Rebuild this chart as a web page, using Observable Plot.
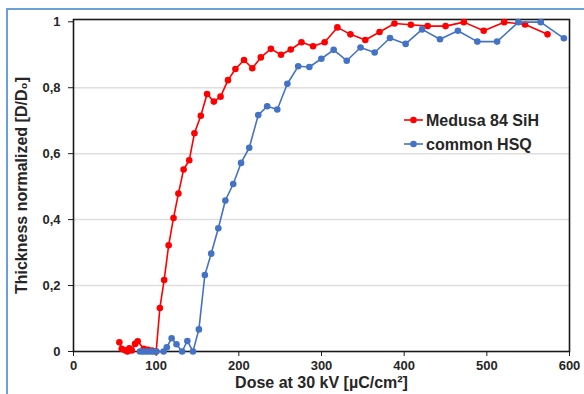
<!DOCTYPE html>
<html>
<head>
<meta charset="utf-8">
<script src="https://cdn.jsdelivr.net/npm/d3@7"></script>
<script src="https://cdn.jsdelivr.net/npm/@observablehq/plot@0.6"></script>
<style>
  html, body { margin: 0; padding: 0; background: #fff; overflow: hidden; }
  #wrap { position: relative; width: 584px; height: 394px; font-family: "Liberation Sans", Arial, sans-serif; }
  #border { position: absolute; left: 6px; top: 8px; width: 640px; height: 440px; border: 2px solid #6a9fd8; box-sizing: border-box; }
  #chart { position: absolute; left: 0; top: 0; }
  #legend { position: absolute; left: 0; top: 0; }
</style>
</head>
<body>
<div id="wrap">
  <div id="border"></div>
  <div id="chart"></div>
  <div id="legend"></div>
</div>
<script>
// ---- data ----
const seriesNames = ["Medusa 84 SiH", "common HSQ"];
const seriesColors = ["#ff0000", "#4472c4"];

const medusaDose = [55.5, 58.3, 62.4, 65.2, 67.6, 70.5, 74.5, 77.7, 85, 90, 95, 100, 104.5, 109.7, 115.1, 121, 126.9, 133.2, 140, 146.3, 154, 161.6, 169.8, 177.9, 186.9, 195.9, 206.3, 216.3, 226.6, 238.8, 251, 262.8, 275.8, 289.8, 303.8, 319.2, 335, 353, 370.2, 388.3, 408.1, 428.4, 450.1, 472.2, 496.2, 521, 546.3, 573.4];
const medusaThick = [0.028, 0.008, 0.004, 0, 0.01, 0.003, 0.023, 0.031, 0.008, 0.005, 0.003, 0, 0.132, 0.217, 0.322, 0.405, 0.479, 0.552, 0.58, 0.662, 0.715, 0.781, 0.758, 0.773, 0.823, 0.857, 0.884, 0.859, 0.892, 0.918, 0.9, 0.916, 0.938, 0.926, 0.938, 0.983, 0.962, 0.945, 0.969, 0.995, 0.991, 0.987, 0.987, 0.999, 0.973, 0.999, 0.992, 0.962];

const hsqDose = [80.4, 83.5, 86.7, 89.8, 93.5, 96.6, 100.2, 109, 112.9, 118.7, 124.6, 131.4, 137.7, 144.5, 151.7, 158.9, 166.6, 175.2, 183.7, 193.2, 202.7, 212.6, 223.5, 234.3, 246.5, 258.7, 271.8, 285.3, 299.8, 314.7, 330.5, 347.2, 364.3, 382.8, 401.8, 421.7, 443.3, 465, 488.5, 512.4, 538.1, 565.2, 593.2];
const hsqThick = [0, 0, 0, 0, 0, 0, 0, 0, 0.013, 0.04, 0.022, 0, 0.032, 0, 0.067, 0.232, 0.297, 0.374, 0.458, 0.508, 0.572, 0.618, 0.717, 0.744, 0.734, 0.812, 0.865, 0.863, 0.888, 0.915, 0.882, 0.922, 0.907, 0.951, 0.933, 0.977, 0.947, 0.973, 0.94, 0.94, 0.999, 0.999, 0.95];

const xTicks = [0, 100, 200, 300, 400, 500, 600];
const yTicks = [0, 0.2, 0.4, 0.6, 0.8, 1];
const gridTicks = [0.2, 0.4, 0.6, 0.8];
const xLabel = "Dose at 30 kV [µC/cm²]";
const yLabel = "Thickness normalized [D/D₀]";

// ---- build ----
const medusa = medusaDose.map((d, i) => ({dose: d, t: medusaThick[i]}));
const hsq = hsqDose.map((d, i) => ({dose: d, t: hsqThick[i]}));
const fmt = d => d === 0 ? "0" : d === 1 ? "1" : d.toFixed(1).replace(".", ",");

const chart = Plot.plot({
  width: 584,
  height: 394,
  marginLeft: 73,
  marginRight: 15,
  marginTop: 19,
  marginBottom: 43,
  style: {fontFamily: "'Liberation Sans', Arial, sans-serif", background: "transparent", color: "#262626"},
  x: {domain: [0, 600], ticks: xTicks, label: null},
  y: {domain: [0, 1.007], ticks: yTicks, label: null},
  marks: [
    Plot.ruleY(gridTicks, {stroke: "#dedede", strokeWidth: 1.5}),
    Plot.frame({stroke: "#1a1a1a", strokeWidth: 1.6}),
    Plot.axisX({ticks: xTicks, tickSize: 5, tickPadding: 4, fontSize: 13, fontWeight: "bold", stroke: "#1a1a1a", fill: "#262626", label: null}),
    Plot.axisY({ticks: yTicks, tickSize: 5, tickPadding: 8, tickFormat: fmt, fontSize: 13, fontWeight: "bold", stroke: "#1a1a1a", fill: "#262626", label: null}),
    Plot.line(medusa, {x: "dose", y: "t", stroke: seriesColors[0], strokeWidth: 1.6}),
    Plot.dot(medusa, {x: "dose", y: "t", fill: seriesColors[0], r: 3.3}),
    Plot.line(hsq, {x: "dose", y: "t", stroke: seriesColors[1], strokeWidth: 1.6}),
    Plot.dot(hsq, {x: "dose", y: "t", fill: seriesColors[1], r: 3.3}),
    Plot.text([xLabel], {frameAnchor: "bottom", dy: 36, fontSize: 16, fontWeight: "bold", fill: "#262626", textAnchor: "middle"}),
    Plot.text([yLabel], {frameAnchor: "left", dx: -52, rotate: -90, fontSize: 16, fontWeight: "bold", fill: "#262626", textAnchor: "middle"})
  ]
});
document.getElementById("chart").appendChild(chart);

// ---- legend (overlay) ----
const lg = d3.select("#legend").append("svg").attr("width", 584).attr("height", 394);
seriesNames.forEach((name, i) => {
  const y = 120 + i * 24;
  const g = lg.append("g");
  g.append("line").attr("x1", 404).attr("x2", 423).attr("y1", y).attr("y2", y)
    .attr("stroke", seriesColors[i]).attr("stroke-width", 1.6);
  g.append("circle").attr("cx", 413.5).attr("cy", y).attr("r", 3.3).attr("fill", seriesColors[i]);
  g.append("text").attr("x", 426).attr("y", y).attr("dy", "0.36em")
    .attr("font-family", "'Liberation Sans', Arial, sans-serif").attr("font-size", 16).attr("font-weight", "bold")
    .attr("fill", "#262626").text(name);
});
</script>
</body>
</html>
